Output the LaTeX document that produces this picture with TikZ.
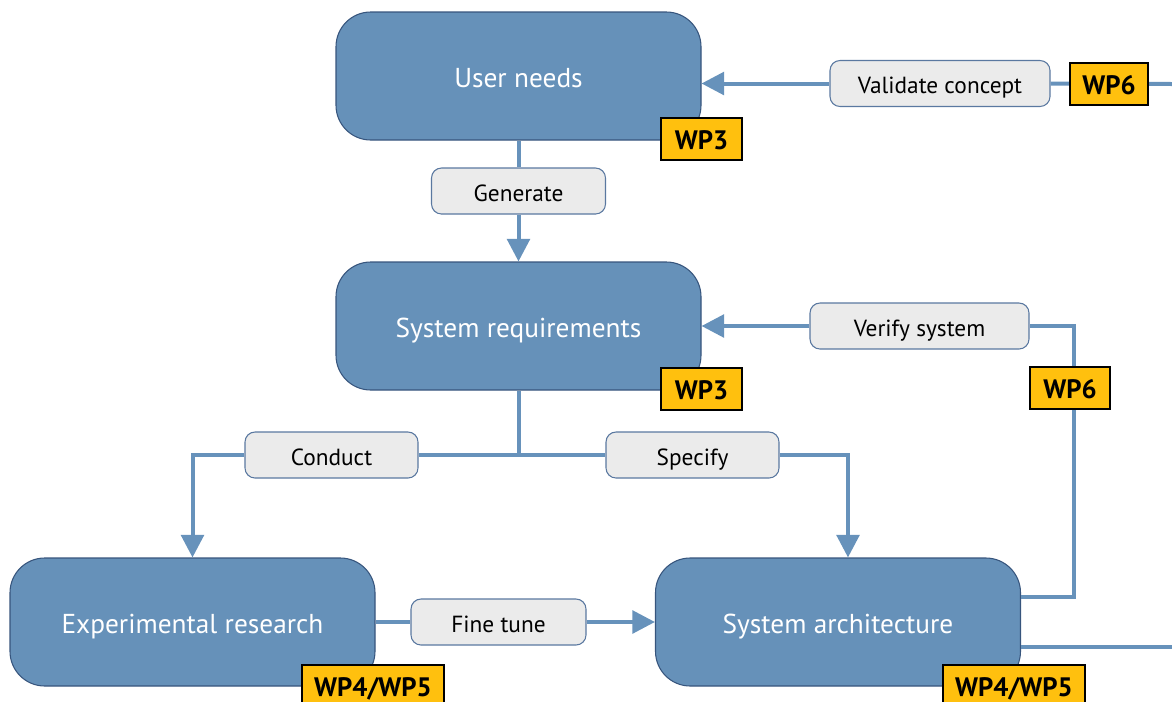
\documentclass[tikz,border=0pt]{standalone}
\usepackage{fontspec}
\setmainfont{PT Sans}
\usetikzlibrary{arrows.meta}
\definecolor{boxfill}{RGB}{102,145,185}
\definecolor{boxedge}{RGB}{55,85,125}
\definecolor{linec}{RGB}{103,146,187}
\definecolor{lblfill}{RGB}{235,235,235}
\definecolor{lbledge}{RGB}{90,120,160}
\definecolor{tagfill}{RGB}{255,192,14}
\tikzset{
  bigbox/.style={draw=boxedge, line width=0.8pt, fill=boxfill, rounded corners=26pt,
    minimum width=273.75pt, minimum height=96pt, text=white, font=\fontsize{20.5}{23}\selectfont, inner sep=0pt,
    text height=16.6pt, text depth=0pt},
  lbl/.style={draw=lbledge, line width=0.8pt, fill=lblfill, rounded corners=7.5pt,
    minimum height=34.5pt, text=black, font=\fontsize{17.5}{20}\selectfont, inner sep=0pt,
    text height=15.2pt, text depth=0pt},
  tag/.style={draw=black, line width=1.5pt, fill=tagfill, minimum height=31.5pt,
    font=\fontsize{20}{22}\selectfont\bfseries, inner sep=0pt,
    text height=16.3pt, text depth=0pt},
  conn/.style={draw=linec, line width=3pt},
  arr/.style={conn, -{Triangle[width=17pt,length=17pt]}},
}
\begin{document}
\begin{tikzpicture}[x=0.75pt,y=-0.75pt]
\useasboundingbox (0,0) rectangle (1172,701);
% main boxes
\node[bigbox] (un) at (518.5,76) {User needs};
\node[bigbox] (sr) at (518.5,326) {System requirements};
\node[bigbox] (er) at (192.5,622) {Experimental research};
\node[bigbox] (sa) at (838,622) {System architecture};
% labels
\node[lbl, minimum width=130.5pt] (gen) at (518.5,191) {Generate};
\node[lbl, minimum width=165pt] (val) at (940,83.5) {Validate concept};
\node[lbl, minimum width=164.25pt] (ver) at (919.5,326) {Verify system};
\node[lbl, minimum width=129.75pt] (con) at (331.5,455) {Conduct};
\node[lbl, minimum width=129.75pt] (spe) at (692.5,455) {Specify};
\node[lbl, minimum width=131.25pt] (fin) at (498.5,622) {Fine tune};
% coordinates
\coordinate (rtop) at (1172,84);
\coordinate (rbot) at (1172,647);
\coordinate (jn) at (518.5,455);
\coordinate (vcorner) at (1074,326);
\coordinate (vlow) at (1074,597);
\coordinate (salow) at (1021,597);
\coordinate (sahigh) at (1021,647);
% connectors
\draw[conn] (un.south) -- (gen.north);
\draw[arr] (gen.south) -- (sr.north);
\draw[conn] (sr.south) -- (jn);
\draw[conn] (jn) -- (con.east);
\draw[conn] (jn) -- (spe.west);
\draw[arr] (con.west) -| (er.north);
\draw[arr] (spe.east) -| ([xshift=7.5pt]sa.north);
\draw[arr] (er.east) -- (fin.west) (fin.east) -- (sa.west);
\draw[conn] (salow) -- (vlow) -- (vcorner) -- (ver.east);
\draw[arr] (ver.west) -- (sr.east);
\draw[conn] (sahigh) -- (rbot);
\draw[conn] (rtop) -- (val.east);
\draw[arr] (val.west) -- (un.east|-val.west);
% tags
\node[tag, minimum width=60.75pt] (wp3a) at (701.5,139) {WP3};
\node[tag, minimum width=60.75pt] (wp3b) at (701.5,389) {WP3};
\node[tag, minimum width=58.5pt] (wp6a) at (1109,84) {WP6};
\node[tag, minimum width=60pt] (wp6b) at (1070,387.5) {WP6};
\node[tag, minimum width=106.5pt] (wp45a) at (373,686) {WP4/WP5};
\node[tag, minimum width=106.5pt] (wp45b) at (1014,686) {WP4/WP5};
\end{tikzpicture}
\end{document}
